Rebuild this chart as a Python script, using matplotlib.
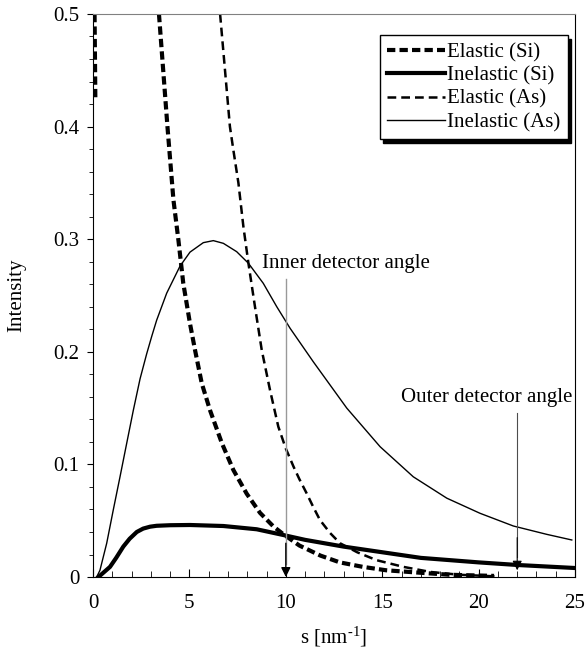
import matplotlib
matplotlib.use("Agg")
from matplotlib import pyplot as plt
from matplotlib.ticker import MultipleLocator

plt.rcParams['font.family'] = ['Liberation Serif', 'DejaVu Serif']
plt.rcParams['mathtext.fontset'] = 'custom'
plt.rcParams['mathtext.rm'] = 'Liberation Serif'
plt.rcParams['mathtext.default'] = 'regular'

# values
s_el_si = [3.42, 3.86, 3.96, 4.17, 4.43, 4.68, 5.03, 5.29, 5.64, 6.07, 6.68, 7.28,
           7.97, 8.66, 9.35, 9.87, 10.7, 11.8, 12.8, 14.0, 15.2, 16.8, 18.5, 20.8]
el_si = [0.5, 0.4, 0.379, 0.335, 0.299, 0.261, 0.225, 0.2016, 0.172, 0.148, 0.119,
         0.095, 0.074, 0.057, 0.045, 0.038, 0.028, 0.019, 0.013, 0.009, 0.006,
         0.004, 0.002, 0.001]
# short piece of the Si elastic curve near s = 0
s_el_si_head = [0.08, 0.12]
el_si_head = [0.5, 0.426]

s_inel_si = [0.28, 0.88, 1.2, 1.57, 1.9, 2.27, 2.6, 2.96, 3.3, 4.0, 5.03, 6.76,
             8.49, 9.87, 11.0, 13.0, 15.4, 17.0, 20.0, 22.0, 25.0]
inel_si = [0.0, 0.009, 0.017, 0.027, 0.034, 0.040, 0.043, 0.0447, 0.0455, 0.046,
           0.0462, 0.0453, 0.0424, 0.0373, 0.033, 0.027, 0.021, 0.017, 0.013,
           0.0107, 0.008]

s_el_as = [6.59, 7.1, 7.28, 7.54, 7.80, 8.06, 8.40, 8.75, 9.18, 9.61, 10.0, 10.4,
           10.7, 11.08, 11.4, 11.77, 12.3, 12.81, 13.7, 14.7, 16.1, 17.5, 19.0, 21.0]
el_as = [0.5, 0.4, 0.379, 0.350, 0.311, 0.2786, 0.240, 0.2016, 0.166, 0.1335, 0.114,
         0.098, 0.087, 0.0743, 0.063, 0.0506, 0.039, 0.030, 0.022, 0.015, 0.009,
         0.0045, 0.002, 0.0005]

s_inel_as = [0.19, 0.36, 0.71, 1.05, 1.40, 1.75, 2.09, 2.44, 2.78, 3.05, 3.30, 3.82,
             4.51, 5.03, 5.72, 6.24, 6.76, 7.45, 8.06, 8.83, 9.53, 10.22, 11.43,
             13.16, 14.89, 16.61, 18.35, 20.07, 21.80, 23.53, 24.83]
inel_as = [0.0, 0.006, 0.030, 0.0595, 0.089, 0.119, 0.148, 0.176, 0.198, 0.214,
           0.228, 0.252, 0.276, 0.2885, 0.2969, 0.2987, 0.2963, 0.2889, 0.2786,
           0.2608, 0.2400, 0.2209, 0.191, 0.150, 0.1157, 0.089, 0.070, 0.0566,
           0.0453, 0.0379, 0.0329]

fig = plt.figure(figsize=(5.85, 6.54), dpi=100)
ax = fig.add_axes([0.159, 0.1177, 0.824, 0.861])

ax.plot(s_el_si, el_si, color='black', lw=3.0, ls=(0, (2.0, 1.0)), label='Elastic (Si)')
ax.plot(s_el_si_head, el_si_head, color='black', lw=3.0, ls=(0, (2.0, 1.0)))
ax.plot(s_inel_si, inel_si, color='black', lw=3.0, label='Inelastic (Si)')
ax.plot(s_el_as, el_as, color='black', lw=1.8, ls=(0, (3.5, 2.0)), label='Elastic (As)')
ax.plot(s_inel_as, inel_as, color='black', lw=1.0, label='Inelastic (As)')

# detector angle markers: grey line with a black arrow head
ax.plot([10, 10], [0.012, 0.265], color='0.6', lw=1.0)
ax.annotate('', xy=(10, 0.0), xytext=(10, 0.03),
            arrowprops=dict(arrowstyle='-|>', color='black', lw=1.0,
                            mutation_scale=14, shrinkA=0, shrinkB=0))
ax.plot([22, 22], [0.018, 0.146], color='0.3', lw=0.8)
ax.annotate('', xy=(22, 0.006), xytext=(22, 0.035),
            arrowprops=dict(arrowstyle='-|>', color='black', lw=0.8,
                            mutation_scale=14, shrinkA=0, shrinkB=0))
ax.text(8.75, 0.278, 'Inner detector angle', fontsize=15, va='center', ha='left')
ax.text(24.85, 0.159, 'Outer detector angle', fontsize=15, va='center', ha='right')

ax.set_xlim(0, 25)
ax.set_ylim(0, 0.5)
ax.xaxis.set_major_locator(MultipleLocator(5))
ax.xaxis.set_minor_locator(MultipleLocator(1))
ax.yaxis.set_minor_locator(MultipleLocator(0.02))
ax.set_yticks([0, 0.1, 0.2, 0.3, 0.4, 0.5])
ax.set_yticklabels(['0', '0.1', '0.2', '0.3', '0.4', '0.5'])
ax.tick_params(axis='x', which='both', direction='in', labelsize=15, pad=12)
ax.tick_params(axis='x', which='major', length=6)
ax.tick_params(axis='x', which='minor', length=4)
ax.tick_params(axis='y', which='both', direction='out', labelsize=15, pad=6)
ax.tick_params(axis='y', which='major', length=4)
ax.tick_params(axis='y', which='minor', length=3)
ax.spines['top'].set_color('0.5')

ax.set_xlabel(r's [nm$^{\text{-1}}$]', fontsize=15, labelpad=9)
ax.set_ylabel('Intensity', fontsize=15, labelpad=19)

leg = ax.legend(loc='upper right', bbox_to_anchor=(0.985, 0.962), fontsize=15,
                frameon=True, fancybox=False, edgecolor='black', framealpha=1,
                handlelength=2.8, handletextpad=0.1, borderpad=0.35,
                labelspacing=0.18, borderaxespad=0,
                shadow={'facecolor': 'black', 'edgecolor': 'black', 'alpha': 1.0,
                        'ox': 2.5, 'oy': -2.5})
leg.get_frame().set_linewidth(1.0)

plt.savefig('out.png', dpi=100)
plt.close("all")
